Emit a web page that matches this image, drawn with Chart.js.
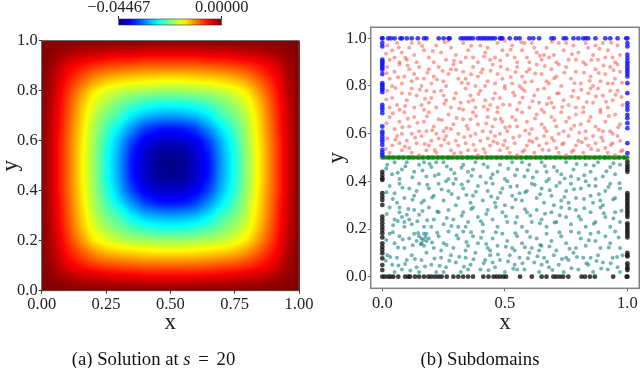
<!DOCTYPE html>
<html>
<head>
<meta charset="utf-8">
<script src="https://cdn.jsdelivr.net/npm/chart.js@4"></script>
<style>
  html, body { margin: 0; padding: 0; background: #fff; }
  #page { position: relative; width: 640px; height: 368px; overflow: hidden; }
  canvas { position: absolute; }
  .caption { position: absolute; top: 348px; font: 18.7px "Liberation Serif", serif; color: #111; text-align: center; white-space: nowrap; }
  .caption b { font-weight: normal; margin: 0 3px; }
</style>
</head>
<body>
<div id="page">
  <canvas id="heatChart" width="320" height="368" style="left:0;top:0"></canvas>
  <canvas id="barChart" width="220" height="32" style="left:60px;top:0"></canvas>
  <canvas id="pointsChart" width="340" height="368" style="left:320px;top:0"></canvas>
  <div class="caption" style="left:0;width:307px">(a) Solution at <i>s</i> <b>=</b> 20</div>
  <div class="caption" style="left:320px;width:320px">(b) Subdomains</div>
</div>
<script>
const colorbarMin = -0.04467;
const colorbarMax = 0;
const heatXTicks = [0, 0.25, 0.5, 0.75, 1];
const heatYTicks = [0, 0.2, 0.4, 0.6, 0.8, 1];
const pointsXTicks = [0, 0.5, 1];
const pointsYTicks = [0, 0.2, 0.4, 0.6, 0.8, 1];
const gridCoords = [0, 0.05, 0.1, 0.15, 0.2, 0.25, 0.3, 0.35, 0.4, 0.45, 0.5, 0.55, 0.6, 0.65, 0.7, 0.75, 0.8, 0.85, 0.9, 0.95, 1];

// percent of the colorbar range at each grid node
const heatLevels = [
  [100,100,100,100,100,100,100,100,100,100,100,100,100,100,100,100,100,100,100,100,100],
  [100,98,96,94,93,92,91,91,90,90,90,90,90,91,91,92,93,94,96,98,100],
  [100,96,90,86,83,81,80,79,78,78,78,78,78,79,80,81,83,86,90,96,100],
  [100,94,86,80,74,70,68,67,66,65,65,65,66,67,68,70,74,80,86,94,100],
  [100,93,83,74,65,60,57,55,54,53,53,53,54,55,57,60,65,74,83,93,100],
  [100,92,81,70,60,54,49,45,42,40,40,40,42,45,49,54,60,70,81,92,100],
  [100,91,80,68,57,49,44,36,31,29,28,29,31,36,44,49,57,68,80,91,100],
  [100,91,79,67,55,45,36,27,19,15,14,15,19,27,36,45,55,67,79,91,100],
  [100,90,78,66,54,42,31,19,11,8,7,8,11,19,31,42,54,66,78,90,100],
  [100,90,78,65,53,40,29,15,8,3,2,3,8,15,29,40,53,65,78,90,100],
  [100,90,78,65,53,40,28,14,7,2,0,2,7,14,28,40,53,65,78,90,100],
  [100,90,78,65,53,40,29,15,8,3,2,3,8,15,29,40,53,65,78,90,100],
  [100,90,78,66,54,42,31,19,11,8,7,8,11,19,31,42,54,66,78,90,100],
  [100,91,79,67,55,45,36,27,19,15,14,15,19,27,36,45,55,67,79,91,100],
  [100,91,80,68,57,49,44,36,31,29,28,29,31,36,44,49,57,68,80,91,100],
  [100,92,81,70,60,54,49,45,42,40,40,40,42,45,49,54,60,70,81,92,100],
  [100,93,83,74,65,60,57,55,54,53,53,53,54,55,57,60,65,74,83,93,100],
  [100,94,86,80,74,70,68,67,66,65,65,65,66,67,68,70,74,80,86,94,100],
  [100,96,90,86,83,81,80,79,78,78,78,78,78,79,80,81,83,86,90,96,100],
  [100,98,96,94,93,92,91,91,90,90,90,90,90,91,91,92,93,94,96,98,100],
  [100,100,100,100,100,100,100,100,100,100,100,100,100,100,100,100,100,100,100,100,100]
];

// x y pairs in percent
const upperInterior = [
  2,97,4,95,6,98,8,94,5,92,11,96,13,93,10,91,15,98,17,95,19,92,22,97,24,94,21,90,26,91,28,96,30,93,33,98,35,95,37,92,32,90,40,97,42,94,44,91,47,98,49,95,46,92,51,93,53,97,55,90,57,95,59,92,61,98,63,94,60,90,65,91,67,96,70,93,72,98,74,95,76,91,68,92,78,97,80,94,82,90,84,96,86,93,88,91,90,98,92,95,94,92,96,97,97,93,3,91,7,90,14,90,27,99,39,90,50,99,54,92,62,96,71,90,79,91,83,98,87,97,91,92,95,90,12,98,34,92,43,96,58,98,66,93,75,98,
  2,88,5,86,3,83,7,89,9,84,11,87,8,81,13,85,15,88,12,82,17,83,19,87,16,80,21,84,23,88,25,82,20,81,27,85,29,89,31,83,26,80,33,86,35,81,37,88,39,84,34,83,41,87,43,82,45,89,47,85,42,80,49,83,51,87,53,81,55,88,50,80,57,84,59,86,61,82,63,89,56,80,65,85,67,82,69,87,71,84,73,80,75,88,68,81,77,83,79,86,81,81,83,89,85,84,87,87,89,82,86,80,91,85,93,88,95,83,97,86,94,81,96,89,38,80,60,87,72,89,92,81,4,80,28,87,46,81,
  2,78,4,75,6,72,8,77,10,74,7,70,12,79,14,76,16,72,13,71,18,78,20,75,22,71,19,73,24,78,26,74,28,71,30,77,32,73,34,79,36,76,38,71,33,70,40,78,42,74,44,72,46,77,48,75,43,70,50,79,52,72,54,76,56,73,58,78,60,71,55,70,62,76,64,73,66,79,68,75,70,71,65,70,72,77,74,74,76,72,78,78,80,75,82,71,84,77,86,73,88,79,90,76,92,71,94,74,96,78,98,72,89,70,3,71,17,70,25,76,37,74,47,71,57,79,69,73,79,71,85,79,93,78,
  3,67,5,62,7,65,9,69,11,63,13,67,15,61,12,60,17,65,19,69,21,63,23,66,25,61,22,60,27,68,29,64,31,60,33,66,35,62,37,69,39,64,41,61,43,67,38,60,45,63,47,69,49,65,51,61,53,67,48,60,55,63,57,69,59,65,61,62,63,68,65,64,60,60,67,61,69,67,71,63,73,69,75,65,72,60,77,62,79,68,81,64,83,61,85,67,87,63,89,69,91,65,93,61,95,68,97,64,94,60,8,60,18,61,28,62,36,66,46,66,52,63,66,69,74,61,82,69,90,61,
  2,58,4,55,6,59,8,53,10,57,12,52,14,56,16,59,18,53,20,57,22,52,24,55,26,59,28,53,30,57,32,52,34,56,36,59,38,53,40,57,42,52,44,55,46,59,48,53,50,57,52,52,54,56,56,59,58,53,60,57,62,52,64,55,66,59,68,53,70,57,72,52,74,56,76,59,78,53,80,57,82,52,84,55,86,59,88,53,90,57,92,52,94,56,96,59,98,53,3,52,7,56,11,54,15,51,19,55,23,58,27,56,31,55,35,53,39,51,43,58,47,56,51,54,55,51,59,55,63,58,67,56,71,54,75,51,79,55,83,58,87,56,91,54,95,51,97,57
];
const upperExtra = [
  1.5,93.5,6.7,96.1,9.4,91.8,16.3,96.8,20.6,94.7,25.4,98.3,29.2,90.6,36.3,96.9,41.5,92.4,48.1,90.7,52.4,95.2,56.7,98.4,64.3,92.7,69.2,98.6,77.4,93.3,85.3,90.9,88.6,95.6,93.4,98.1,
  1.8,85.3,6.4,83.7,10.3,88.6,14.2,83.1,18.4,85.6,22.3,82.7,24.6,86.3,30.1,86.8,32.4,81.4,36.2,84.9,40.3,85.7,44.2,86.4,48.3,88.1,52.4,83.8,54.3,85.9,58.2,81.6,62.4,85.2,66.3,88.4,70.2,83.3,74.3,85.7,78.4,81.2,82.3,85.6,84.6,82.2,88.3,85.4,90.2,88.6,94.3,86.7,97.8,81.4,
  1.6,74.3,5.4,79.2,9.3,71.6,11.2,76.7,15.3,78.4,17.4,74.6,21.2,77.6,25.3,72.6,29.3,74.8,31.4,70.6,35.2,73.4,39.3,76.6,41.4,71.3,45.2,74.6,49.3,72.2,53.4,77.3,57.2,75.2,61.3,73.6,63.4,78.4,67.2,72.4,71.3,76.8,73.4,71.2,77.3,75.6,81.2,78.4,83.4,73.3,87.2,75.7,91.3,73.4,95.2,76.3,97.6,75.4,
  1.7,64.4,4.3,68.6,8.2,62.7,10.4,66.3,14.3,64.6,18.2,67.3,20.4,61.4,24.3,65.7,26.2,62.4,30.3,66.6,34.4,63.3,38.3,67.4,42.4,64.3,44.2,60.7,48.3,66.3,50.2,62.6,54.4,65.7,58.3,61.3,62.3,66.4,66.2,62.4,70.3,65.6,76.2,66.7,78.3,63.3,80.4,60.4,84.2,65.3,88.3,61.6,92.4,67.4,96.3,62.7,
  1.4,53.6,5.3,57.4,9.2,54.6,13.4,58.3,17.3,55.7,21.4,53.2,25.3,57.6,29.3,51.7,33.4,58.6,37.2,55.4,41.3,53.6,45.3,56.7,49.4,55.2,53.4,58.3,57.2,52.4,61.3,56.6,65.4,53.3,69.2,58.2,73.4,55.6,77.3,52.3,81.4,56.4,85.2,53.6,89.4,58.4,93.3,55.2,97.4,52.6
];

const lowerInterior = [
  2,47,5,48,8,45,4,43,10,48,13,44,15,47,18,42,20,46,23,43,25,48,28,45,30,41,33,47,35,44,38,48,40,42,43,46,45,43,48,47,50,41,53,48,55,45,58,42,60,47,63,44,65,48,68,41,70,46,73,43,75,48,78,45,80,41,83,47,85,44,88,48,90,42,93,46,95,43,97,47,7,41,17,48,27,41,37,45,47,44,57,48,67,44,77,42,87,41,22,48,
  3,38,5,35,7,39,9,33,11,37,13,34,15,39,14,36,17,32,19,37,21,34,23,39,25,32,27,36,29,39,31,33,33,37,35,40,37,34,39,38,41,32,43,36,45,39,47,33,49,37,51,40,53,34,55,38,57,32,59,36,61,39,63,33,65,37,67,40,69,34,71,38,73,32,75,36,77,39,79,33,81,37,83,40,85,34,87,38,89,32,91,36,93,39,95,33,97,37,6,31,16,31,26,40,36,31,46,31,56,35,66,31,76,31,86,31,
  3,29,5,24,7,27,8,25,9,23,10,26,11,24,9,21,12,22,7,29,13,28,15,26,17,21,19,29,21,24,23,27,25,22,27,28,29,24,31,21,33,27,35,23,37,29,39,25,41,22,43,28,45,24,47,21,49,27,51,23,53,29,55,25,57,21,59,27,61,23,63,28,65,24,67,21,69,27,71,23,73,29,75,25,77,22,79,28,81,24,83,21,85,27,87,23,89,29,91,25,93,21,95,27,97,23,20,21,30,30,50,30,70,30,90,30,34,21,
  3,18,5,14,7,17,9,12,11,16,13,18,14,15,15,17,16,16,17,18,16,14,18,15,17,13,19,16,18,18,21,12,23,17,25,14,27,19,29,12,31,16,33,19,35,13,37,17,39,14,41,19,43,12,45,16,47,13,49,18,51,15,53,12,55,17,57,14,59,19,61,12,63,16,65,13,67,18,69,15,71,11,73,17,75,14,77,19,79,12,81,16,83,13,85,18,87,15,89,12,91,17,93,14,95,19,97,12,24,11,34,11,44,11,54,11,64,11,
  2,9,4,5,6,8,8,3,10,7,12,9,14,4,16,7,18,10,20,5,22,2,24,8,26,4,28,9,30,6,32,2,34,8,36,5,38,10,40,3,42,7,44,9,46,4,48,7,50,2,52,9,54,5,56,8,58,3,60,10,62,6,64,2,66,8,68,4,70,9,72,5,74,2,76,7,78,10,80,3,82,8,84,5,86,2,88,9,90,6,92,3,94,8,96,4,98,9,97,2,5,2,15,2,25,2,35,3,45,6,55,3,65,5,75,8,85,8
];
const lowerExtra = [
  1.6,45.4,6.3,43.6,9.4,46.3,12.3,41.7,16.4,44.6,19.3,47.4,21.4,42.3,26.3,46.2,29.4,43.4,32.3,45.7,36.4,42.4,41.3,47.2,44.3,41.4,51.4,45.3,54.2,42.6,59.3,44.7,61.4,41.6,66.3,46.4,71.3,44.3,74.4,41.2,79.3,47.3,82.4,42.6,86.3,46.6,91.4,44.2,94.3,47.6,
  1.7,35.4,4.3,32.6,8.2,37.3,12.3,32.3,18.4,38.6,20.3,33.2,24.2,36.6,28.3,34.7,32.4,38.7,34.3,34.3,38.2,35.6,42.3,39.4,44.4,33.6,48.2,35.2,52.3,37.7,54.4,32.4,58.3,35.4,62.2,38.6,64.4,34.6,68.3,36.3,72.4,39.4,74.3,33.4,78.2,36.7,82.3,32.6,84.3,38.3,88.4,34.6,92.3,37.6,94.2,32.4,96.8,39.2,
  1.8,26.3,4.4,21.6,6.3,23.4,10.6,28.4,14.3,23.3,16.4,27.6,18.3,23.7,22.4,27.4,26.3,24.6,28.2,21.3,32.4,25.6,36.3,28.4,40.2,23.3,42.4,26.3,46.3,29.2,50.4,25.4,54.3,22.6,58.2,28.3,60.4,25.7,64.3,22.4,66.4,26.4,70.3,22.7,72.4,25.8,76.3,28.6,80.2,25.3,82.4,28.7,86.3,22.2,90.4,26.6,94.3,24.4,97.6,27.7,
  1.6,15.4,4.3,18.6,6.4,12.3,8.3,15.6,12.4,13.2,14.6,18.3,15.7,13.6,16.7,15.4,17.6,16.7,20.3,14.3,22.4,18.4,26.2,13.3,30.3,17.4,34.3,14.6,36.2,18.6,40.3,16.3,42.4,13.7,46.3,18.6,50.4,12.6,54.3,18.2,58.2,12.4,60.3,16.7,64.4,13.3,68.2,12.7,72.3,18.7,76.4,11.7,80.2,18.4,84.3,15.3,88.2,18.6,92.4,12.3,96.4,16.4,
  1.4,6.7,3.2,8.3,6.6,4.7,9.3,5.3,11.4,2.6,13.3,7.4,17.4,4.3,21.3,7.6,23.4,4.6,27.3,6.7,31.4,8.4,33.3,4.2,37.2,7.3,41.4,5.6,43.3,2.7,47.2,9.3,51.3,6.4,53.4,3.3,57.2,5.6,59.4,7.7,63.3,8.6,67.2,6.3,69.4,2.8,73.3,7.4,77.2,3.6,79.4,8.3,83.3,5.7,87.4,6.6,89.3,3.4,93.2,5.6,95.8,8.3
];

const blueTopX = [0,2.4,3.5,5,7.4,8,10,12,14.5,17,18,23,25,27,27.5,32,33,34,35,36,37,39,40,41,42,43,44,45,46,48,48.5,49,52,54.5,56,60,61.6,64,69,70,74,75,78,80,82,83,84,87,91,93,96,99.5,100];
const blueLeftY = [100,98,96.6,91,90.3,89.6,88.9,88.2,87.5,86.8,85,81.2,80.5,79.8,79,78.4,77.4,72.1,71,70,68.6,63,60.9,60,58.8,57.7,56.7,55.3,53.2,52,51];
const blueRightY = [98,96.6,93.1,91.7,90.3,89.3,88.2,87.1,86.1,85.1,84,81.2,77,72.8,71.4,70,67.9,66.5,64.4,62.3,56,51.8];
const blackBottomX = [0,1,2.4,3.4,4.5,6.5,9.3,10.6,11.3,13.3,15,17,18.8,20,21.5,22.9,24.2,26.3,29,31,33,35,37,41.2,43.3,45.4,46.7,48,49.4,50.5,56.2,61,65,67,69.8,71,72.5,73.8,75.9,81.3,82.7,84.7,86.7,94.2,99.7,100];
const blackLeftY = [44,42.7,41.3,40.6,35,33.6,32.2,30.1,25.2,23.8,22.4,21,19.6,18.2,16.5,14,12.6,11.2,9.8,7.7,4.9,2.8];
const blackRightY = [48.3,47,46,45,44,35,34,33,32,31,30,29,28,27,26,25,22.4,21.5,20.5,19.5,18.5,17.5,16.5,10,9,8.5,5.6,4.5,3.5,2.8];
const interfaceX = [0,1,2.2,3,4.1,5,6.3,7,8.2,9,10.4,11,12.1,13,14.3,15,16.2,17,18.4,19,20.1,21,22.3,23,24.2,25,26.4,27,28.1,29,30.3,31,32.2,33,34.4,35,36.1,37,38.3,39,40.2,41,42.4,43,44.1,45,46.3,47,48.2,49,50.4,51,52.1,53,54.3,55,56.2,57,58.4,59,60.1,61,62.3,63,64.2,65,66.4,67,68.1,69,70.3,71,72.2,73,74.4,75,76.1,77,78.3,79,80.2,81,82.4,83,84.1,85,86.3,87,88.2,89,90.4,91,92.1,93,94.3,95,96.2,97,98.4,99,100];

const pctPoints = (flat) => {
  const pts = [];
  for (let i = 0; i < flat.length; i += 2) pts.push({ x: flat[i] / 100, y: flat[i + 1] / 100 });
  return pts;
};
const onLeft = (ys) => ys.map((y) => ({ x: 0, y: y / 100 }));
const onRight = (ys) => ys.map((y) => ({ x: 1, y: y / 100 }));
const onLevel = (xs, level) => xs.map((x) => ({ x: x / 100, y: level }));

function jet(t) {
  const band = (c) => Math.max(0, Math.min(1, 1.5 - Math.abs(4 * t - c)));
  return [band(3), band(2), band(1)].map((c) => Math.round(c * 255));
}
const jetCss = (t) => 'rgb(' + jet(t).join(',') + ')';

function levelAt(xv, yv) {
  const fx = Math.max(0, Math.min(19.999, xv * 20));
  const fy = Math.max(0, Math.min(19.999, yv * 20));
  const i = Math.floor(fx), j = Math.floor(fy);
  const a = fx - i, b = fy - j;
  return (heatLevels[j][i] * (1 - a) + heatLevels[j][i + 1] * a) * (1 - b) +
    (heatLevels[j + 1][i] * (1 - a) + heatLevels[j + 1][i + 1] * a) * b;
}

// imshow style shading between the grid nodes
const heatShade = {
  id: 'heatShade',
  afterDatasetsDraw(chart) {
    const { left, top, width, height } = chart.chartArea;
    const w = Math.ceil(width), h = Math.ceil(height);
    const off = document.createElement('canvas');
    off.width = w;
    off.height = h;
    const octx = off.getContext('2d');
    const img = octx.createImageData(w, h);
    for (let py = 0; py < h; py++) {
      const yv = chart.scales.y.getValueForPixel(top + py + 0.5);
      for (let px = 0; px < w; px++) {
        const xv = chart.scales.x.getValueForPixel(left + px + 0.5);
        const c = jet(levelAt(xv, yv) / 100);
        const k = (py * w + px) * 4;
        img.data[k] = c[0];
        img.data[k + 1] = c[1];
        img.data[k + 2] = c[2];
        img.data[k + 3] = 255;
      }
    }
    octx.putImageData(img, 0, 0);
    chart.ctx.drawImage(off, left, top, w, h);
  },
};

const frameBox = {
  id: 'frameBox',
  afterDraw(chart, args, opts) {
    const { left, top, width, height } = chart.chartArea;
    chart.ctx.save();
    chart.ctx.strokeStyle = opts.color;
    chart.ctx.lineWidth = opts.width;
    chart.ctx.strokeRect(left, top, width, height);
    chart.ctx.restore();
  },
};

function axisOptions(min, max, tickValues, digits, size, title, tickColor, padding, titleShift) {
  const isX = title === 'x';
  return {
    type: 'linear',
    min: min,
    max: max,
    afterBuildTicks: (s) => { s.ticks = tickValues.map((v) => ({ value: v })); },
    afterFit: (s) => { if (isX) s.height = size; else s.width = size; },
    border: { display: false },
    grid: { drawOnChartArea: false, color: tickColor, tickLength: 3, tickColor: tickColor },
    ticks: {
      autoSkip: false,
      maxRotation: 0,
      padding: padding,
      color: '#222',
      font: { family: '"Liberation Serif", serif', size: 16.5 },
      callback: (v) => v.toFixed(digits),
    },
    title: {
      display: true,
      text: title,
      color: '#222',
      padding: { top: titleShift, bottom: 1 },
      font: { family: '"Liberation Serif", serif', size: 23 },
    },
  };
}

const cells = [];
gridCoords.forEach((y, j) => gridCoords.forEach((x, i) => cells.push({ x: x, y: y, v: heatLevels[j][i] })));

new Chart(document.getElementById('heatChart'), {
  type: 'scatter',
  data: {
    datasets: [{
      data: cells,
      clip: 0,
      pointStyle: 'rect',
      pointRadius: 9.5,
      borderWidth: 0,
      backgroundColor: (ctx) => (ctx.raw ? jetCss(ctx.raw.v / 100) : '#000'),
    }],
  },
  options: {
    responsive: false,
    animation: false,
    layout: { padding: { left: 0, top: 40.7, right: 21, bottom: 30 } },
    plugins: { legend: { display: false }, tooltip: { enabled: false }, frameBox: { color: '#555', width: 1 } },
    scales: {
      x: axisOptions(0, 1, heatXTicks, 2, 47.3, 'x', '#333', 1, 0),
      y: axisOptions(0, 1, heatYTicks, 1, 41.7, 'y', '#333', 1, -3),
    },
  },
  plugins: [heatShade, frameBox],
});

new Chart(document.getElementById('barChart'), {
  type: 'bar',
  data: {
    labels: [''],
    datasets: [{
      data: [[colorbarMin, colorbarMax]],
      barPercentage: 1,
      categoryPercentage: 1,
      backgroundColor: (ctx) => {
        const area = ctx.chart.chartArea;
        if (!area) return '#000';
        const g = ctx.chart.ctx.createLinearGradient(area.left, 0, area.right, 0);
        for (let t = 0; t <= 1.0001; t += 0.05) g.addColorStop(Math.min(t, 1), jetCss(t));
        return g;
      },
    }],
  },
  options: {
    indexAxis: 'y',
    responsive: false,
    animation: false,
    layout: { padding: { left: 58.7, top: 0, right: 58.3, bottom: 7 } },
    plugins: { legend: { display: false }, tooltip: { enabled: false }, frameBox: { color: '#333', width: 0.6 } },
    scales: {
      x: {
        type: 'linear',
        position: 'top',
        min: colorbarMin,
        max: colorbarMax,
        afterBuildTicks: (s) => { s.ticks = [colorbarMin, colorbarMax].map((v) => ({ value: v })); },
        afterFit: (s) => { s.height = 19; },
        border: { display: false },
        grid: { drawOnChartArea: false, color: '#222', tickLength: 3, tickColor: '#222' },
        ticks: {
          autoSkip: false,
          maxRotation: 0,
          padding: -2,
          color: '#222',
          font: { family: '"Liberation Serif", serif', size: 16.5 },
          callback: (v) => (v < 0 ? '\u2212' + Math.abs(v).toFixed(5) : v.toFixed(5)),
        },
      },
      y: { display: false },
    },
  },
  plugins: [frameBox],
});

const dotSet = (data, color, radius) => ({ data: data, backgroundColor: color, borderWidth: 0, pointRadius: radius });

new Chart(document.getElementById('pointsChart'), {
  type: 'scatter',
  data: {
    datasets: [
      dotSet(onLevel(blueTopX, 1).concat(onLeft(blueLeftY), onRight(blueRightY)), 'rgba(20,20,255,0.8)', 2.4),
      dotSet(onLevel(blackBottomX, 0).concat(onLeft(blackLeftY), onRight(blackRightY)), 'rgba(20,20,20,0.8)', 2.4),
      dotSet(pctPoints(upperInterior.concat(upperExtra)), 'rgba(255,85,75,0.55)', 2),
      dotSet(pctPoints(lowerInterior.concat(lowerExtra)), 'rgba(0,120,120,0.55)', 2),
      dotSet(onLevel(interfaceX, 0.5), 'rgba(0,128,0,0.85)', 2.2),
    ],
  },
  options: {
    responsive: false,
    animation: false,
    layout: { padding: { left: 0, top: 27.3, right: 20.7, bottom: 30 } },
    plugins: { legend: { display: false }, tooltip: { enabled: false }, frameBox: { color: '#808080', width: 1.5 } },
    scales: {
      x: axisOptions(-0.0474, 1.0486, pointsXTicks, 1, 49.7, 'x', '#666', 2, 0),
      y: axisOptions(-0.0486, 1.0462, pointsYTicks, 1, 50.7, 'y', '#666', 1, 3),
    },
  },
  plugins: [frameBox],
});
</script>
</body>
</html>
